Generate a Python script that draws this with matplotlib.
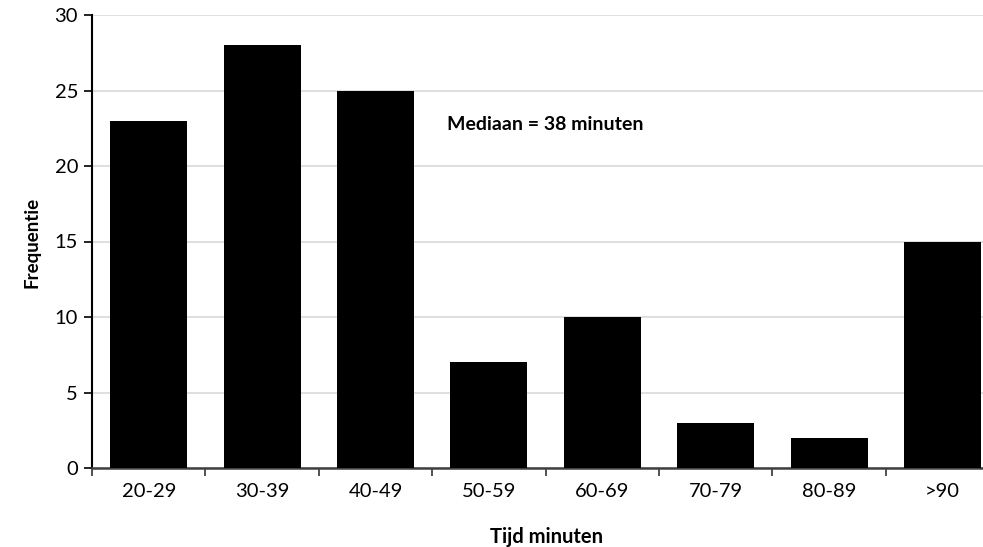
import numpy as np
import matplotlib.pyplot as plt

plt.rcParams['font.family'] = ['Lato', 'DejaVu Sans']

categories = ['20-29', '30-39', '40-49', '50-59', '60-69', '70-79', '80-89', '>90']
counts = [23, 28, 25, 7, 10, 3, 2, 15]

W, H = 983, 547
fig = plt.figure(figsize=(W/100, H/100), dpi=100)
# axes runs past the right edge, as in the original
ax = fig.add_axes([92/W, (H-468)/H, 113.4*8/W, 453/H])

x = np.arange(len(categories))
ax.bar(x, counts, width=0.68, color='black', zorder=3)

ax.set_xlim(-0.5, 7.5)
ax.set_ylim(0, 30)
ax.set_yticks(np.arange(0, 31, 5))
ax.set_xticks(np.arange(-0.5, 8, 1), minor=False)
ax.set_xticklabels([])
ax.set_xticks(x, minor=True)
ax.set_xticklabels(categories, minor=True, fontsize=14.5)
ax.tick_params(axis='x', which='minor', length=0, pad=11)
ax.tick_params(axis='x', which='major', length=6, width=1.2, color='#333333')
ax.tick_params(axis='y', length=6, width=1.2, labelsize=14.5, pad=4)

ax.grid(axis='y', color='#d9d9d9', linewidth=1.2, zorder=0)
ax.set_axisbelow(True)
for s in ['top', 'right']:
    ax.spines[s].set_visible(False)
ax.spines['left'].set_linewidth(1.5)
ax.spines['bottom'].set_linewidth(1.8)
ax.spines['bottom'].set_color('#404040')

ax.text(447/W, (H-125)/H, 'Mediaan = 38 minuten', transform=fig.transFigure,
        fontsize=14, fontweight='bold', va='center', ha='left')
fig.text(32/W, (H-242)/H, 'Frequentie', rotation=90, fontsize=13.5,
         fontweight='bold', ha='center', va='center')
fig.text(546/W, (H-537)/H, 'Tijd minuten', fontsize=14.5,
         fontweight='bold', ha='center', va='center')

fig.savefig('out.png', dpi=100)
